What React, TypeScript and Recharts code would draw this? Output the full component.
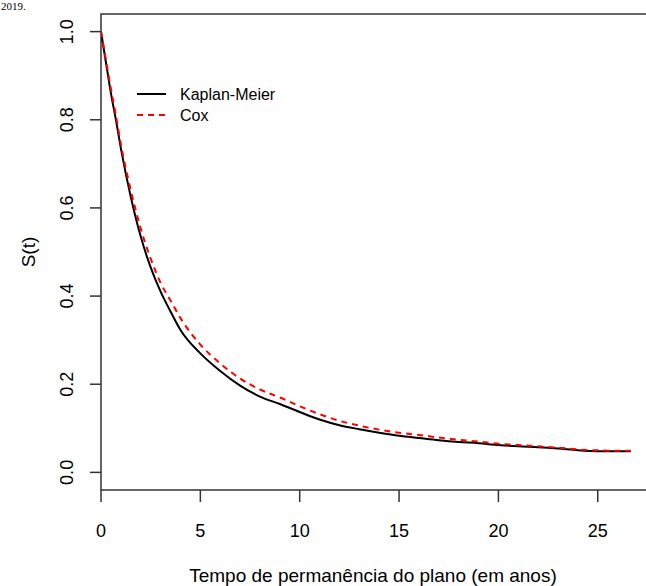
import React from "react";
import { LineChart, Line, XAxis, YAxis, ReferenceArea } from "recharts";

// survival estimates (time in years)
const times = [0, 0.25, 0.5, 0.75, 1, 1.5, 2, 2.5, 3, 3.5, 4, 5, 6, 7, 8, 9, 10, 11, 12, 13, 14, 15, 16, 17, 18, 19, 20, 21, 22, 23, 24, 25, 26, 26.66];
const kaplanMeier = [1.0, 0.93, 0.86, 0.8, 0.735, 0.625, 0.535, 0.465, 0.41, 0.365, 0.323, 0.27, 0.23, 0.197, 0.172, 0.155, 0.137, 0.12, 0.107, 0.098, 0.09, 0.083, 0.078, 0.073, 0.069, 0.066, 0.062, 0.059, 0.057, 0.054, 0.05, 0.048, 0.048, 0.048];
const cox = [1.0, 0.935, 0.87, 0.81, 0.745, 0.64, 0.553, 0.485, 0.43, 0.39, 0.35, 0.29, 0.247, 0.213, 0.188, 0.17, 0.15, 0.132, 0.117, 0.106, 0.097, 0.09, 0.085, 0.079, 0.074, 0.07, 0.065, 0.062, 0.059, 0.056, 0.052, 0.05, 0.049, 0.049];

const xTicks = [0, 5, 10, 15, 20, 25];
const yTicks = [0, 0.2, 0.4, 0.6, 0.8, 1.0];
const xMax = 27.73;

const data = times.map((t, i) => ({ t, km: kaplanMeier[i], cox: cox[i] }));

const font = "'Liberation Sans', Arial, sans-serif";

const XTick = ({ x, payload }: any) => (
  <text x={x} y={537} textAnchor="middle" fontFamily={font} fontSize={18} fill="#000">
    {payload.value}
  </text>
);

const YTick = ({ y, payload }: any) => (
  <text
    x={67}
    y={y}
    transform={`rotate(-90, 67, ${y})`}
    textAnchor="middle"
    dominantBaseline="central"
    fontFamily={font}
    fontSize={18}
    fill="#000"
  >
    {Number(payload.value).toFixed(1)}
  </text>
);

export default function App() {
  return (
    <div style={{ position: "absolute", left: 0, top: 0, width: 646, height: 586, overflow: "hidden", background: "#fff" }}>
      <LineChart width={700} height={586} data={data} margin={{ top: 14, right: 48, bottom: 0, left: 0 }}>
        <XAxis
          dataKey="t"
          type="number"
          domain={[0, xMax]}
          ticks={xTicks}
          allowDataOverflow
          height={96}
          axisLine={false}
          tickSize={12}
          tickLine={{ stroke: "#333", strokeWidth: 1.5 }}
          tick={<XTick />}
        />
        <YAxis
          type="number"
          domain={[-0.04, 1.04]}
          ticks={yTicks}
          allowDataOverflow
          width={101}
          axisLine={false}
          tickSize={11}
          tickLine={{ stroke: "#333", strokeWidth: 1.5 }}
          tick={<YTick />}
        />
        <ReferenceArea x1={0} x2={xMax} y1={-0.04} y2={1.04} fill="none" fillOpacity={0} stroke="#333" strokeWidth={1.5} />
        <Line type="monotone" dataKey="km" stroke="#000" strokeWidth={2} dot={false} isAnimationActive={false} />
        <Line type="monotone" dataKey="cox" stroke="#ff0000" strokeWidth={2} strokeDasharray="6 5" dot={false} isAnimationActive={false} />
      </LineChart>
      <svg width={646} height={586} style={{ position: "absolute", left: 0, top: 0, pointerEvents: "none" }}>
        <text x={1} y={10} fontFamily="'Liberation Serif', serif" fontSize={11} fill="#000">2019.</text>
        <text x={28} y={252} transform="rotate(-90, 28, 252)" textAnchor="middle" dominantBaseline="central" fontFamily={font} fontSize={19} fill="#000">
          S(t)
        </text>
        <text x={373} y={582} textAnchor="middle" fontFamily={font} fontSize={19} fill="#000">
          Tempo de permanência do plano (em anos)
        </text>
        <line x1={137} y1={94} x2={166} y2={94} stroke="#000" strokeWidth={2} />
        <line x1={137} y1={115} x2={166} y2={115} stroke="#ff0000" strokeWidth={2} strokeDasharray="6 5" />
        <text x={180} y={100} fontFamily={font} fontSize={16} fill="#000">Kaplan-Meier</text>
        <text x={180} y={121} fontFamily={font} fontSize={16} fill="#000">Cox</text>
      </svg>
    </div>
  );
}
